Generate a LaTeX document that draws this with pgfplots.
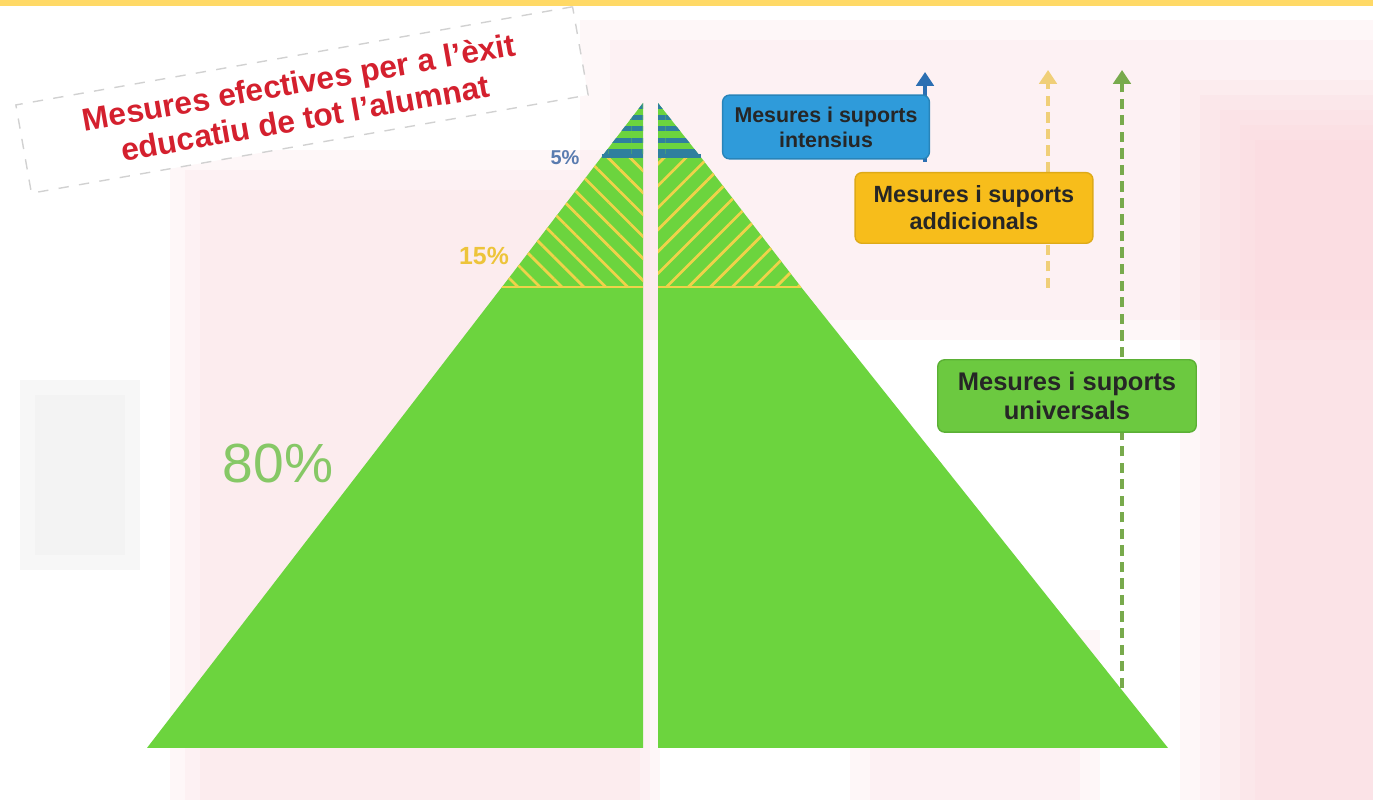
\documentclass[border=0pt]{standalone}
\usepackage{pgfplots}
\pgfplotsset{compat=1.18}
\usepackage{fontspec}
\setmainfont{Liberation Sans}
\usetikzlibrary{patterns.meta,arrows.meta}
\definecolor{pyrgreen}{HTML}{6CD43E}
\definecolor{hatchyellow}{HTML}{EFD24A}
\definecolor{teal5}{HTML}{2F7F9E}
\definecolor{bluebox}{HTML}{2F9BDA}
\definecolor{orangebox}{HTML}{F7BD1B}
\definecolor{greenbox}{HTML}{6CC940}
\definecolor{greenboxb}{HTML}{5BB035}
\definecolor{titlered}{HTML}{D4202E}
\definecolor{topyellow}{HTML}{FFD966}
\definecolor{pinkbg}{HTML}{FBD3D9}
\definecolor{pct80}{HTML}{86C866}
\definecolor{pct15}{HTML}{EDC43A}
\definecolor{pct5}{HTML}{5A7CB0}
\definecolor{arrowgreen}{HTML}{78AA4C}
\definecolor{arrowyellow}{HTML}{F0CF78}
\definecolor{arrowblue}{HTML}{2C6FB2}
\pgfplotsset{soft/.style={fill=pinkbg,draw=none,opacity=0.16}}
\begin{document}
\begin{tikzpicture}
\begin{axis}[width=14cm,height=8.157cm,scale only axis,
  xmin=0,xmax=1373,ymin=0,ymax=800,y dir=reverse,hide axis,clip=true]
% background
\addplot[fill=white,draw=none] coordinates {(0,0)(1373,0)(1373,800)(0,800)} -- cycle;
% soft pink blotches (stacked for blurred edges)
\addplot[soft] coordinates {(170,150)(660,150)(660,800)(170,800)} -- cycle;
\addplot[soft] coordinates {(185,170)(650,170)(650,800)(185,800)} -- cycle;
\addplot[soft] coordinates {(200,190)(640,190)(640,800)(200,800)} -- cycle;
\addplot[soft] coordinates {(580,20)(1373,20)(1373,340)(580,340)} -- cycle;
\addplot[soft] coordinates {(610,40)(1373,40)(1373,320)(610,320)} -- cycle;
\addplot[soft] coordinates {(1180,80)(1373,80)(1373,800)(1180,800)} -- cycle;
\addplot[soft] coordinates {(1200,95)(1373,95)(1373,800)(1200,800)} -- cycle;
\addplot[soft] coordinates {(1220,110)(1373,110)(1373,800)(1220,800)} -- cycle;
\addplot[soft] coordinates {(1240,125)(1373,125)(1373,800)(1240,800)} -- cycle;
\addplot[soft] coordinates {(1255,140)(1373,140)(1373,800)(1255,800)} -- cycle;
\addplot[soft] coordinates {(850,630)(1100,630)(1100,800)(850,800)} -- cycle;
\addplot[soft] coordinates {(870,650)(1080,650)(1080,800)(870,800)} -- cycle;
\addplot[fill=black!6,draw=none,opacity=0.5] coordinates {(20,380)(140,380)(140,570)(20,570)} -- cycle;
\addplot[fill=black!6,draw=none,opacity=0.5] coordinates {(35,395)(125,395)(125,555)(35,555)} -- cycle;
\addplot[fill=topyellow,draw=none] coordinates {(0,0)(1373,0)(1373,6)(0,6)} -- cycle;
% arrows behind boxes
\addplot[draw=arrowblue,line width=1.3pt,-{Triangle[length=4pt,width=5pt]}] coordinates {(925,162)(925,72)};
\addplot[draw=arrowyellow,line width=1.2pt,dash pattern=on 3pt off 1.8pt,-{Triangle[length=4pt,width=5pt]}] coordinates {(1048,288)(1048,70)};
\addplot[draw=arrowgreen,line width=1.2pt,dash pattern=on 3pt off 1.8pt,-{Triangle[length=4pt,width=5pt]}] coordinates {(1122,688)(1122,70)};
% pyramid: 80% band
\addplot[fill=pyrgreen,draw=none] coordinates {(147,748)(643,748)(643,287)(502,287)} -- cycle;
\addplot[fill=pyrgreen,draw=none] coordinates {(658,748)(1168,748)(801,287)(658,287)} -- cycle;
% 15% band
\addplot[fill=pyrgreen,draw=none] coordinates {(502,287)(643,287)(643,157)(601.5,157)} -- cycle;
\addplot[fill=pyrgreen,draw=none] coordinates {(658,287)(801,287)(700.7,157)(658,157)} -- cycle;
\addplot[draw=none,pattern={Lines[angle=-45,distance=4.5pt,line width=0.8pt]},pattern color=hatchyellow] coordinates {(502,287)(643,287)(643,157)(601.5,157)} -- cycle;
\addplot[draw=none,pattern={Lines[angle=45,distance=4.5pt,line width=0.8pt]},pattern color=hatchyellow] coordinates {(658,287)(801,287)(700.7,157)(658,157)} -- cycle;
\addplot[draw=hatchyellow,line width=0.7pt] coordinates {(502,287)(643,287)};
\addplot[draw=hatchyellow,line width=0.7pt] coordinates {(658,287)(801,287)};
% 5% band
\addplot[fill=pyrgreen,draw=none] coordinates {(601.5,157)(643,157)(643,103)} -- cycle;
\addplot[fill=pyrgreen,draw=none] coordinates {(658,157)(700.7,157)(658,103)} -- cycle;
\addplot[draw=none,pattern={Lines[angle=0,distance=3.3pt,line width=1.5pt]},pattern color=teal5] coordinates {(601.5,157)(643,157)(643,103)} -- cycle;
\addplot[draw=none,pattern={Lines[angle=0,distance=3.3pt,line width=1.5pt]},pattern color=teal5] coordinates {(658,157)(700.7,157)(658,103)} -- cycle;
\addplot[draw=teal5,line width=1.2pt] coordinates {(601.5,156)(643,156)};
\addplot[draw=teal5,line width=1.2pt] coordinates {(658,156)(700.7,156)};
% percentages
\node[text=pct5,font=\bfseries\fontsize{5.8}{6}\selectfont] at (axis cs:565,158) {5\%};
\node[text=pct15,font=\bfseries\fontsize{7.2}{8}\selectfont] at (axis cs:484,256) {15\%};
\node[text=pct80,font=\fontsize{16}{18}\selectfont] at (axis cs:278,464) {80\%};
% title box
\node[draw=black!18,dashed,fill=white,rotate=10,minimum width=164pt,minimum height=26pt,
  text=titlered,align=center,font=\bfseries\fontsize{9.2}{10.6}\selectfont] at (axis cs:302,100)
  {Mesures efectives per a l'èxit\\educatiu de tot l'alumnat};
% boxes
\node[fill=bluebox,draw=bluebox!85!black,rounded corners=2pt,minimum width=60pt,minimum height=18.5pt,
  align=center,inner sep=1pt,font=\bfseries\fontsize{6.2}{7.2}\selectfont,text=black!85] at (axis cs:826,127)
  {Mesures i suports\\intensius};
\node[fill=orangebox,draw=orangebox!90!black,rounded corners=2pt,minimum width=69pt,minimum height=20.5pt,
  align=center,inner sep=1pt,font=\bfseries\fontsize{6.8}{7.8}\selectfont,text=black!85] at (axis cs:974,208)
  {Mesures i suports\\addicionals};
\node[fill=greenbox,draw=greenboxb,rounded corners=2pt,minimum width=75pt,minimum height=21pt,
  align=center,inner sep=1pt,font=\bfseries\fontsize{7.4}{8.2}\selectfont,text=black!85] at (axis cs:1067,396)
  {Mesures i suports\\universals};
\end{axis}
\end{tikzpicture}
\end{document}
